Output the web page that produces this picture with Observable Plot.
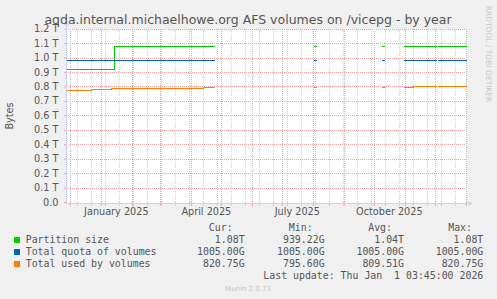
<!DOCTYPE html>
<html><head><meta charset="utf-8">
<script src="https://cdn.jsdelivr.net/npm/d3@7"></script>
<script src="https://cdn.jsdelivr.net/npm/@observablehq/plot@0.6"></script>
<style>
html,body{margin:0;padding:0;background:#f0f0f0;}
#wrap{position:relative;width:497px;height:299px;background:#f0f0f0;overflow:hidden;font-family:"DejaVu Sans";color:#555;}
#wrap svg{position:absolute;left:0;top:0;}
.t{position:absolute;white-space:pre;line-height:1;}
.mono{font-family:"DejaVu Sans Mono";font-size:9.9px;}
.r{transform:translateX(-100%);}
.sq{position:absolute;width:6px;height:6px;}
</style></head><body><div id="wrap"></div>
<script>
// ---- data ----
const titleText = "aqda.internal.michaelhowe.org AFS volumes on /vicepg - by year";
const yLabel = "Bytes";
const seriesNames = ["Partition size", "Total quota of volumes", "Total used by volumes"];
const seriesColors = ["#00cc00", "#0066b3", "#ff8000"];
const dates = [
  "2024-11-27T03:45:00Z", "2024-12-22T00:00:00Z", "2025-01-11T00:00:00Z", "2025-01-14T03:45:00Z",
  "2025-04-13T00:00:00Z", "2025-04-24T00:00:00Z", "2025-04-25T00:00:00Z",
  "2025-08-02T03:45:00Z", "2025-08-04T03:45:00Z", "2025-08-05T00:00:00Z",
  "2025-10-09T03:45:00Z", "2025-10-11T03:45:00Z", "2025-10-12T00:00:00Z",
  "2025-10-31T03:45:00Z", "2025-11-09T00:00:00Z", "2025-12-01T20:00:00Z", "2025-12-02T00:00:00Z",
  "2025-12-03T20:00:00Z", "2026-01-01T03:45:00Z"
];
// values in GiB (null = no data)
const partitionG = [939.22, 939.22, 939.22, 1105.92, 1105.92, 1105.92, null, 1105.92, 1105.92, null, 1105.92, 1105.92, null, 1105.92, 1105.92, 1105.92, null, 1105.92, 1105.92];
const quotaG     = [1005, 1005, 1005, 1005, 1005, 1005, null, 1005, 1005, null, 1005, 1005, null, 1005, 1005, 1005, null, 1005, 1005];
const usedG      = [795.6, 802, 809, 809, 815, 815, null, 815, 815, null, 815, 815, null, 815, 820.75, 820.75, null, 820.75, 820.75];
const yTicks = [0, 0.1, 0.2, 0.3, 0.4, 0.5, 0.6, 0.7, 0.8, 0.9, 1.0, 1.1, 1.2];
const yTickLabels = ["0.0", "0.1 T", "0.2 T", "0.3 T", "0.4 T", "0.5 T", "0.6 T", "0.7 T", "0.8 T", "0.9 T", "1.0 T", "1.1 T", "1.2 T"];
const monthStarts = ["2024-12-01", "2025-01-01", "2025-02-01", "2025-03-01", "2025-04-01", "2025-05-01", "2025-06-01",
  "2025-07-01", "2025-08-01", "2025-09-01", "2025-10-01", "2025-11-01", "2025-12-01", "2026-01-01"];
const minorDates = ["2024-12-08", "2024-12-22", "2025-01-05", "2025-01-19", "2025-02-02", "2025-02-16", "2025-03-02",
  "2025-03-16", "2025-03-30", "2025-04-13", "2025-04-27", "2025-05-11", "2025-05-25", "2025-06-08", "2025-06-22",
  "2025-07-06", "2025-07-20", "2025-08-03", "2025-08-17", "2025-08-31", "2025-09-14", "2025-09-28", "2025-10-12",
  "2025-10-26", "2025-11-09", "2025-11-23", "2025-12-07", "2025-12-21"];
const labelDates = ["2025-01-16", "2025-04-16", "2025-07-16", "2025-10-16"];
const labelTexts = ["January 2025", "April 2025", "July 2025", "October 2025"];
const statHeaders = ["Cur:", "Min:", "Avg:", "Max:"];
const statValues = [
  ["1.08T", "939.22G", "1.04T", "1.08T"],
  ["1005.00G", "1005.00G", "1005.00G", "1005.00G"],
  ["820.75G", "795.60G", "809.51G", "820.75G"]
];
const lastUpdate = "Last update: Thu Jan  1 03:45:00 2026";
const footer = "Munin 2.0.73";
const watermark = "RRDTOOL / TOBI OETIKER";

// ---- chart ----
const DAY = 864e5;
const toT = g => (g == null ? NaN : g / 1024);
const rows = dates.map((d, i) => ({date: new Date(d), p: toT(partitionG[i]), q: toT(quotaG[i]), u: toT(usedG[i])}));
const start = new Date(dates[0]);
const end = new Date(dates[dates.length - 1]);
const pink = "#eda3a3";
const grey = "#cdcdcd";
const axisColor = "#c9d0f5";
const labelMap = new Map(labelDates.map((d, i) => [+new Date(d), labelTexts[i]]));
const dash = {strokeDasharray: "1,1", shapeRendering: "crispEdges"};

const chart = Plot.plot({
  width: 497, height: 299,
  marginLeft: 66, marginRight: 31, marginTop: 28.6, marginBottom: 97,
  style: {background: "transparent", fontFamily: "DejaVu Sans", fontSize: "9.7px", color: "#555", overflow: "visible"},
  x: {type: "utc", domain: [start, end], label: null},
  y: {domain: [0, 1.2], label: null},
  marks: [
    Plot.frame({fill: "white", stroke: null, insetBottom: -1.5}),
    Plot.ruleX(minorDates.map(d => new Date(d)), {stroke: grey, ...dash}),
    Plot.ruleX(monthStarts.map(d => new Date(d)), {stroke: pink, ...dash}),
    Plot.ruleY(yTicks.slice(1), {stroke: pink, ...dash}),
    Plot.axisY(yTicks, {tickSize: 2, tickPadding: 6, stroke: pink, fill: "#555",
      tickFormat: d => yTickLabels[Math.round(d * 10)]}),
    Plot.axisX(minorDates.map(d => new Date(d)), {tickSize: 4, tickFormat: () => "", stroke: grey}),
    Plot.axisX(monthStarts.map(d => new Date(d)), {tickSize: 4, tickFormat: () => "", stroke: pink}),
    Plot.axisX(labelDates.map(d => new Date(d)), {tickSize: 0, tickPadding: 5.5, fill: "#555",
      tickFormat: d => labelMap.get(+d)}),
    Plot.line(rows, {x: "date", y: "p", stroke: seriesColors[0], curve: "step-after", strokeWidth: 1, shapeRendering: "crispEdges"}),
    Plot.line(rows, {x: "date", y: "q", stroke: seriesColors[1], curve: "step-after", strokeWidth: 1, shapeRendering: "crispEdges"}),
    Plot.line(rows, {x: "date", y: "u", stroke: seriesColors[2], curve: "step-after", strokeWidth: 1, shapeRendering: "crispEdges"}),
    Plot.ruleX([start], {y1: 0, y2: 1.228, dy: 1, stroke: axisColor, shapeRendering: "crispEdges"}),
    Plot.ruleY([0], {x1: start, x2: new Date(+end + 2 * DAY), dy: 1, stroke: axisColor, shapeRendering: "crispEdges"}),
    Plot.dot([new Date(+end + 3.3 * DAY)], {x: d => d, y: 0, dy: 1, symbol: "triangle", rotate: 90, r: 1.9, fill: axisColor, stroke: null}),
    Plot.dot([start], {x: d => d, y: 1.235, symbol: "triangle", r: 1.9, fill: axisColor, stroke: null})
  ]
});

const wrap = document.getElementById("wrap");
wrap.appendChild(chart);

function addText(txt, cls, left, top, style) {
  const el = document.createElement("div");
  el.className = "t " + cls;
  el.textContent = txt;
  el.style.left = left + "px";
  el.style.top = top + "px";
  if (style) Object.assign(el.style, style);
  wrap.appendChild(el);
  return el;
}
// title
addText(titleText, "", 248, 13.7, {fontSize: "12.5px", transform: "translateX(-50%)", color: "#555"});
// y label
addText(yLabel, "", 10, 116, {fontSize: "9.7px", transform: "translate(-50%,-50%) rotate(-90deg)"});
// watermark
addText(watermark, "", 488, 53.5, {fontSize: "7.5px", color: "#c8c8c8", transform: "translate(-50%,-50%) rotate(90deg)"});
// legend
const colRight = [232.6, 312.6, 392, 472];
const valRight = [244.6, 324.6, 404, 483.3];
const baseTop = 235;
statHeaders.forEach((h, j) => addText(h, "mono r", colRight[j], baseTop - 12));
seriesNames.forEach((name, i) => {
  const top = baseTop + 12 * i;
  const sq = document.createElement("div");
  sq.className = "sq";
  sq.style.left = "14px";
  sq.style.top = (236.7 + 12 * i) + "px";
  sq.style.background = seriesColors[i];
  wrap.appendChild(sq);
  addText(name, "mono", 25.7, top);
  statValues[i].forEach((v, j) => addText(v, "mono r", valRight[j], top));
});
addText(lastUpdate, "mono r", 483.3, baseTop + 36);
addText(footer, "", 248, 285.8, {fontSize: "7px", color: "#c4c4c4", transform: "translateX(-50%)"});
</script></body></html>
